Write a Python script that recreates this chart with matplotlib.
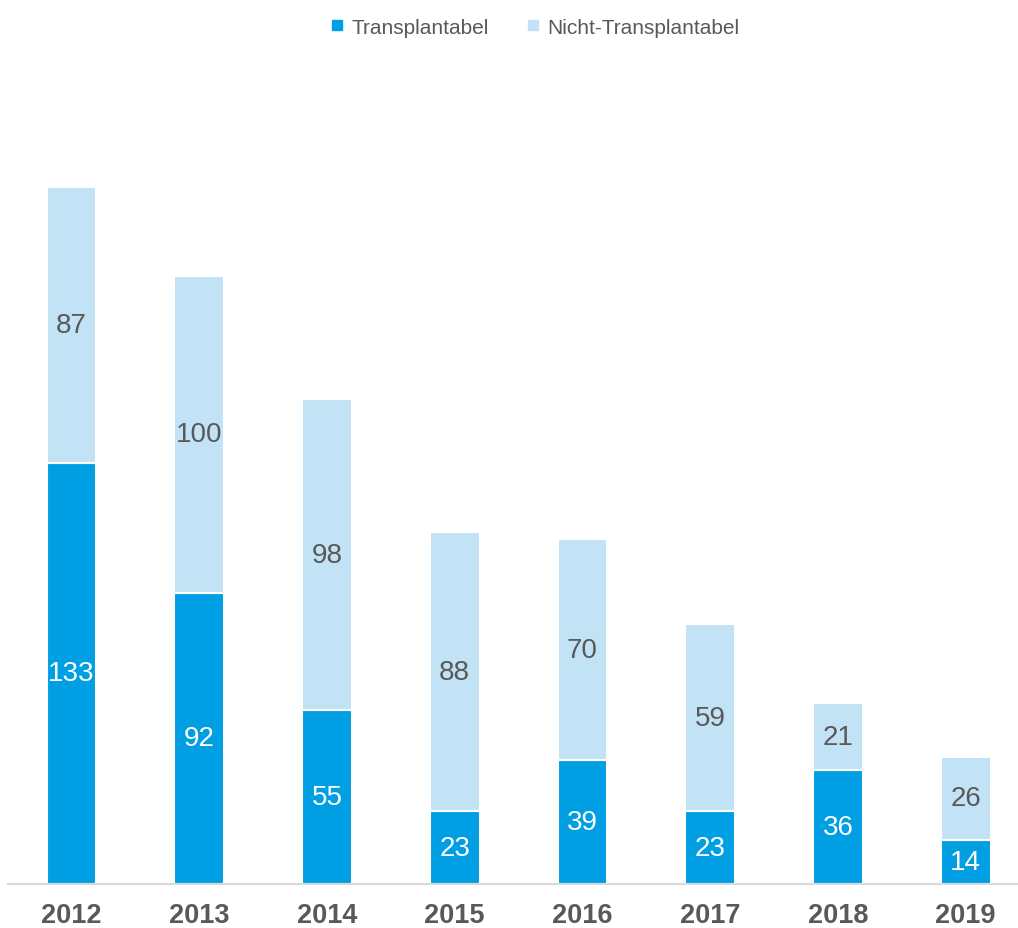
import matplotlib.pyplot as plt
from matplotlib.lines import Line2D

years = ["2012", "2013", "2014", "2015", "2016", "2017", "2018", "2019"]
transplantabel = [133, 92, 55, 23, 39, 23, 36, 14]
nicht_transplantabel = [87, 100, 98, 88, 70, 59, 21, 26]

dunkel = "#009FE3"
hell = "#C2E3F5"
grau = "#595959"

plt.rcParams['font.family'] = ['Liberation Sans', 'DejaVu Sans']

fig = plt.figure(figsize=(10.18, 9.29), dpi=100)
ax = fig.add_axes([8 / 1018, 44 / 929, 1 - 8 / 1018, 792 / 929])

x = list(range(len(years)))
b1 = ax.bar(x, transplantabel, width=0.39, color=dunkel, edgecolor="white", linewidth=1.5)
b2 = ax.bar(x, nicht_transplantabel, width=0.39, bottom=transplantabel, color=hell,
            edgecolor="white", linewidth=1.5)

ax.bar_label(b1, label_type="center", color="white", fontsize=20)
ax.bar_label(b2, label_type="center", color=grau, fontsize=20)

ax.set_xlim(-0.497, 7.41)
ax.set_ylim(0, 250)
ax.set_xticks(x)
ax.set_xticklabels(years, fontsize=19.5, fontweight="bold", color=grau)
ax.tick_params(axis="x", length=0, pad=13)
ax.set_yticks([])
for s in ["top", "right", "left"]:
    ax.spines[s].set_visible(False)
ax.spines["bottom"].set_color("#D9D9D9")
ax.spines["bottom"].set_linewidth(1.5)

handles = [Line2D([], [], marker="s", linestyle="none", markersize=7, color=dunkel),
           Line2D([], [], marker="s", linestyle="none", markersize=7, color=hell)]
fig.legend(handles, ["Transplantabel", "Nicht-Transplantabel"], loc="center",
           bbox_to_anchor=(0.525, 1 - 28 / 929), ncol=2, frameon=False, fontsize=15,
           labelcolor=grau, handlelength=0.8, handletextpad=0.3, columnspacing=1.7)

fig.savefig("out.png", dpi=100)
